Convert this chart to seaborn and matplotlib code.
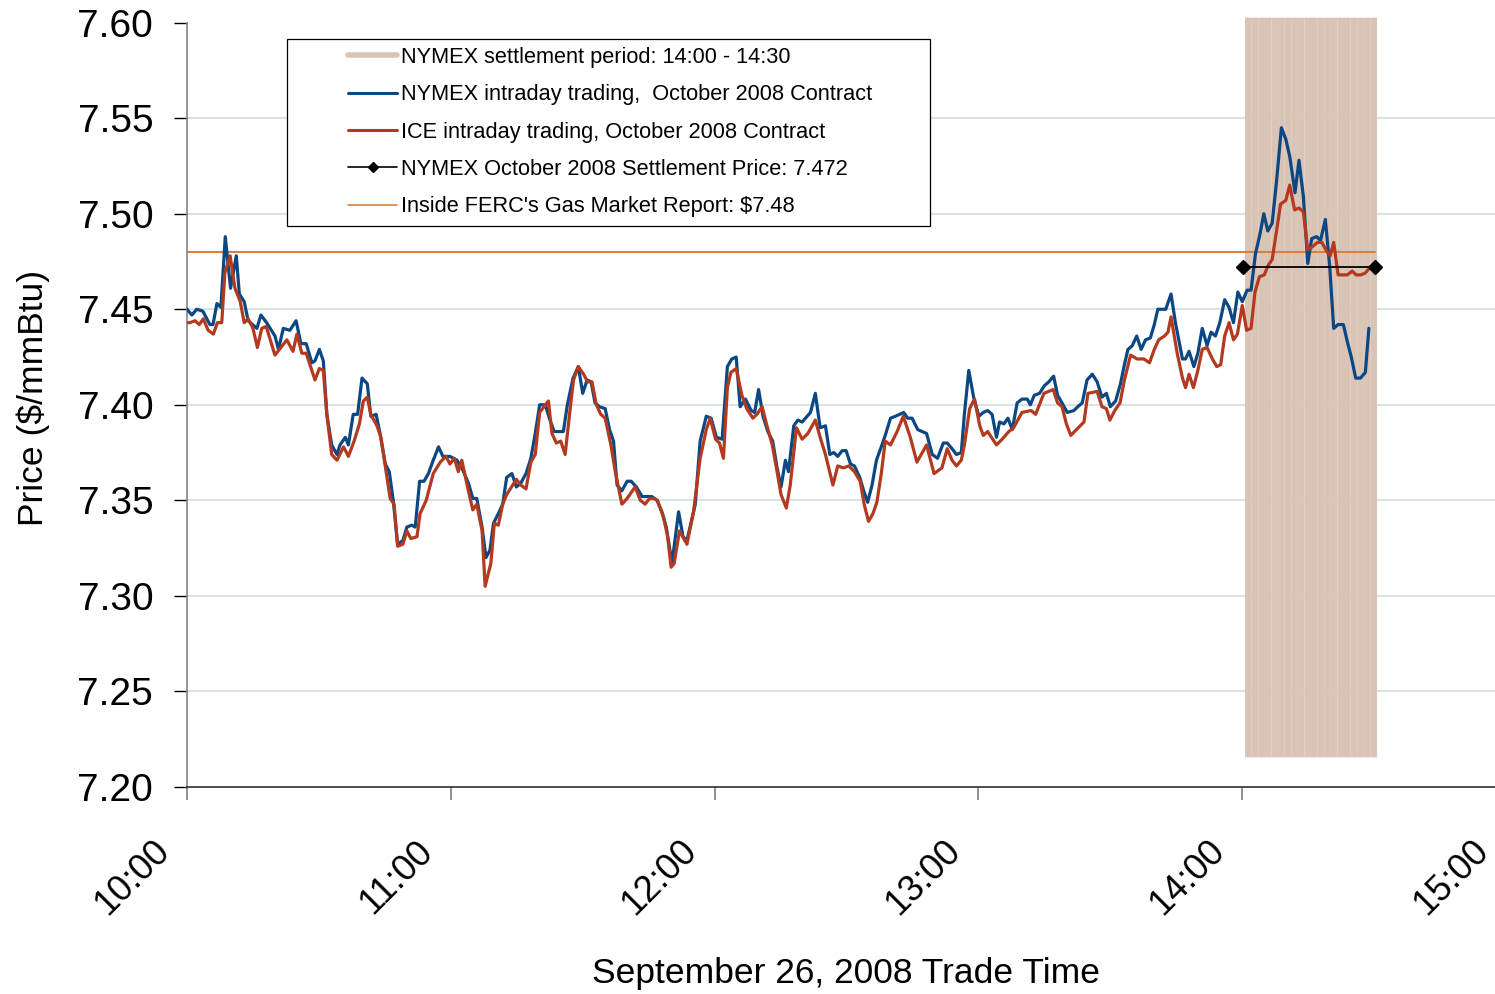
import numpy as np
import matplotlib
matplotlib.use("Agg")
import matplotlib.pyplot as plt
import seaborn as sns
from matplotlib.lines import Line2D
from matplotlib.patches import Rectangle
from matplotlib.transforms import ScaledTranslation

# minutes after 10:00, prices in $/mmBtu
nymex_min = [0.0, 1.1, 2.2, 3.6, 5.2, 5.9, 6.8, 7.7, 8.7, 9.9,
             11.2, 11.9, 13.0, 13.9, 15.9, 16.8, 18.1, 20.0, 20.8, 21.9,
             23.4, 24.8, 25.9, 27.1, 28.4, 29.1, 30.1, 31.0, 31.8, 32.9,
             34.1, 34.8, 36.0, 36.7, 37.8, 38.8, 39.8, 41.0, 41.8, 43.0,
             43.9, 45.1, 46.0, 46.9, 47.9, 49.1, 50.0, 51.1, 51.9, 52.9,
             53.9, 54.9, 56.0, 57.2, 58.2, 59.8, 61.4, 62.5, 64.0, 65.0,
             65.9, 67.1, 68.0, 68.9, 69.7, 70.8, 71.8, 72.7, 73.9, 74.9,
             75.9, 77.1, 78.2, 79.2, 80.2, 81.5, 82.4, 83.5, 85.6, 86.5,
             87.8, 89.0, 90.0, 91.0, 91.9, 92.8, 93.8, 95.1, 96.1, 97.0,
             97.8, 98.9, 100.1, 101.0, 102.2, 103.5, 104.7, 105.7, 106.9, 108.0,
             109.0, 110.3, 111.8, 112.8, 113.7, 115.6, 116.7, 118.1, 119.2, 120.4,
             121.7, 122.9, 123.9, 124.9, 125.8, 127.0, 128.3, 129.1, 130.0, 131.0,
             132.1, 133.2, 134.2, 135.1, 136.1, 136.8, 138.0, 138.9, 139.9, 141.8,
             142.9, 144.0, 145.2, 146.2, 147.1, 148.0, 149.0, 149.9, 150.9, 151.8,
             153.0, 153.9, 154.8, 155.8, 156.8, 157.9, 158.8, 160.0, 161.1, 163.0,
             163.9, 164.9, 166.2, 167.2, 168.2, 169.5, 170.7, 172.0, 172.9, 174.0,
             175.0, 176.1, 176.8, 177.8, 178.9, 180.1, 181.1, 182.1, 183.1, 184.1,
             184.8, 185.8, 186.7, 187.7, 188.8, 189.9, 191.1, 191.8, 192.7, 193.9,
             195.0, 196.0, 197.1, 198.0, 199.0, 200.2, 201.7, 202.6, 203.6, 204.7,
             205.9, 207.0, 208.1, 209.1, 210.0, 211.2, 212.3, 213.2, 214.0, 215.0,
             216.0, 217.0, 218.0, 219.1, 220.0, 220.8, 222.6, 223.8, 224.8, 226.4,
             227.1, 227.9, 229.0, 229.9, 230.9, 232.0, 232.9, 233.9, 234.9, 236.0,
             237.0, 238.0, 239.0, 240.0, 241.1, 242.0, 243.0, 244.0, 244.9, 245.8,
             246.8, 247.8, 248.9, 249.9, 250.8, 252.0, 252.9, 253.9, 254.9, 255.8,
             256.9, 257.8, 258.9, 259.9, 260.8, 261.8, 263.0, 263.9, 264.8, 265.8,
             266.9, 268.0, 268.8]
nymex_px = [7.450, 7.447, 7.450, 7.449, 7.442, 7.442, 7.453, 7.451, 7.488, 7.461,
            7.478, 7.458, 7.454, 7.444, 7.440, 7.447, 7.443, 7.436, 7.429, 7.440,
            7.439, 7.444, 7.432, 7.432, 7.422, 7.423, 7.429, 7.423, 7.395, 7.379,
            7.374, 7.379, 7.383, 7.379, 7.395, 7.395, 7.414, 7.411, 7.394, 7.395,
            7.385, 7.369, 7.365, 7.350, 7.327, 7.329, 7.336, 7.337, 7.336, 7.360,
            7.360, 7.364, 7.371, 7.378, 7.373, 7.373, 7.371, 7.367, 7.359, 7.351,
            7.351, 7.336, 7.320, 7.324, 7.338, 7.343, 7.348, 7.362, 7.364, 7.357,
            7.359, 7.364, 7.372, 7.385, 7.400, 7.400, 7.393, 7.386, 7.386, 7.400,
            7.414, 7.420, 7.406, 7.413, 7.412, 7.401, 7.399, 7.398, 7.387, 7.381,
            7.358, 7.355, 7.360, 7.360, 7.357, 7.352, 7.352, 7.352, 7.350, 7.344,
            7.336, 7.317, 7.344, 7.331, 7.329, 7.348, 7.381, 7.394, 7.393, 7.383,
            7.382, 7.420, 7.424, 7.425, 7.399, 7.403, 7.397, 7.396, 7.408, 7.394,
            7.386, 7.381, 7.367, 7.357, 7.371, 7.365, 7.389, 7.392, 7.391, 7.396,
            7.406, 7.388, 7.389, 7.374, 7.375, 7.373, 7.376, 7.376, 7.369, 7.368,
            7.362, 7.355, 7.349, 7.358, 7.371, 7.378, 7.384, 7.393, 7.394, 7.396,
            7.393, 7.393, 7.387, 7.386, 7.385, 7.374, 7.372, 7.380, 7.380, 7.377,
            7.374, 7.375, 7.395, 7.418, 7.404, 7.394, 7.396, 7.397, 7.395, 7.383,
            7.391, 7.390, 7.393, 7.387, 7.401, 7.403, 7.403, 7.400, 7.405, 7.406,
            7.410, 7.412, 7.415, 7.405, 7.401, 7.396, 7.397, 7.399, 7.401, 7.413,
            7.416, 7.412, 7.404, 7.406, 7.399, 7.402, 7.411, 7.421, 7.429, 7.431,
            7.436, 7.429, 7.434, 7.435, 7.442, 7.450, 7.450, 7.458, 7.443, 7.424,
            7.424, 7.428, 7.420, 7.427, 7.440, 7.431, 7.438, 7.436, 7.443, 7.455,
            7.451, 7.443, 7.459, 7.454, 7.460, 7.460, 7.479, 7.489, 7.500, 7.491,
            7.495, 7.517, 7.545, 7.539, 7.530, 7.511, 7.528, 7.509, 7.474, 7.487,
            7.488, 7.486, 7.497, 7.472, 7.440, 7.442, 7.442, 7.433, 7.425, 7.414,
            7.414, 7.417, 7.440]

ice_min = [0.0, 0.7, 1.8, 2.8, 3.7, 4.8, 6.0, 6.9, 7.9, 8.6,
           9.8, 10.9, 12.1, 13.0, 13.9, 15.0, 16.0, 17.0, 18.0, 20.0,
           22.7, 24.1, 25.0, 26.1, 27.1, 29.1, 30.1, 31.0, 31.8, 32.9,
           34.1, 35.6, 36.7, 38.0, 39.2, 40.1, 41.0, 41.8, 43.2, 44.1,
           46.2, 47.1, 47.9, 49.1, 50.0, 50.9, 52.3, 53.0, 54.4, 56.0,
           57.6, 58.9, 59.8, 60.8, 61.7, 62.5, 63.8, 65.0, 65.9, 67.1,
           67.8, 69.1, 69.9, 70.8, 71.8, 72.7, 74.9, 75.9, 77.1, 78.2,
           79.2, 80.2, 82.2, 83.0, 84.0, 85.0, 86.0, 87.0, 87.9, 89.0,
           90.2, 91.1, 92.1, 93.1, 94.1, 95.1, 96.4, 97.4, 98.9, 100.1,
           101.9, 103.1, 104.2, 105.2, 106.1, 107.0, 108.4, 109.3, 110.1, 110.8,
           112.0, 113.7, 115.2, 116.7, 118.1, 119.0, 120.2, 121.1, 122.0, 122.9,
           123.7, 124.9, 126.2, 127.3, 128.7, 129.6, 130.8, 131.9, 133.1, 134.2,
           135.1, 136.3, 137.2, 138.6, 139.9, 141.2, 142.9, 144.0, 145.2, 146.9,
           148.0, 149.3, 150.5, 151.8, 153.1, 154.0, 155.0, 156.0, 156.9, 157.9,
           158.8, 160.0, 161.5, 162.9, 164.5, 166.0, 168.2, 169.9, 171.7, 172.9,
           174.0, 175.0, 176.1, 176.8, 178.0, 179.1, 180.3, 181.1, 182.1, 184.1,
           185.4, 186.9, 188.0, 189.9, 192.0, 193.0, 194.9, 197.0, 198.0, 199.0,
           200.0, 201.0, 204.0, 204.9, 207.0, 208.1, 209.1, 209.9, 211.0, 212.2,
           213.2, 214.6, 216.1, 217.6, 218.9, 220.0, 221.0, 222.3, 223.1, 223.8,
           225.2, 226.4, 227.1, 227.9, 228.9, 229.9, 230.9, 232.0, 233.2, 234.2,
           235.1, 236.0, 237.0, 238.0, 238.9, 240.0, 241.0, 242.0, 242.9, 243.9,
           245.0, 245.9, 246.8, 247.8, 248.7, 249.9, 250.8, 251.9, 252.9, 253.9,
           254.9, 256.1, 257.1, 258.1, 259.3, 260.0, 260.8, 261.8, 263.2, 263.9,
           265.0, 265.9, 267.0, 268.0, 269.1, 269.8]
ice_px = [7.443, 7.443, 7.444, 7.442, 7.445, 7.439, 7.437, 7.443, 7.443, 7.469,
          7.478, 7.461, 7.454, 7.443, 7.445, 7.440, 7.430, 7.440, 7.441, 7.426,
          7.434, 7.428, 7.437, 7.427, 7.427, 7.413, 7.419, 7.418, 7.395, 7.374,
          7.371, 7.378, 7.373, 7.381, 7.390, 7.402, 7.404, 7.395, 7.389, 7.383,
          7.351, 7.348, 7.326, 7.327, 7.334, 7.330, 7.331, 7.343, 7.350, 7.364,
          7.370, 7.373, 7.369, 7.372, 7.365, 7.371, 7.357, 7.345, 7.348, 7.334,
          7.305, 7.317, 7.338, 7.337, 7.348, 7.353, 7.361, 7.358, 7.356, 7.370,
          7.374, 7.396, 7.402, 7.385, 7.380, 7.381, 7.374, 7.395, 7.413, 7.420,
          7.416, 7.412, 7.412, 7.400, 7.395, 7.393, 7.379, 7.365, 7.348, 7.351,
          7.357, 7.350, 7.348, 7.351, 7.351, 7.350, 7.341, 7.331, 7.315, 7.317,
          7.334, 7.327, 7.344, 7.372, 7.387, 7.393, 7.382, 7.380, 7.372, 7.409,
          7.417, 7.419, 7.405, 7.398, 7.393, 7.395, 7.399, 7.389, 7.379, 7.365,
          7.353, 7.346, 7.358, 7.388, 7.382, 7.385, 7.392, 7.383, 7.374, 7.358,
          7.368, 7.367, 7.368, 7.365, 7.360, 7.348, 7.339, 7.343, 7.349, 7.364,
          7.381, 7.379, 7.386, 7.394, 7.383, 7.370, 7.379, 7.364, 7.367, 7.377,
          7.371, 7.368, 7.371, 7.379, 7.398, 7.403, 7.389, 7.384, 7.386, 7.379,
          7.382, 7.386, 7.388, 7.396, 7.397, 7.395, 7.406, 7.408, 7.401, 7.399,
          7.390, 7.384, 7.391, 7.406, 7.407, 7.399, 7.398, 7.392, 7.397, 7.401,
          7.413, 7.426, 7.424, 7.424, 7.422, 7.429, 7.434, 7.436, 7.438, 7.446,
          7.427, 7.414, 7.409, 7.416, 7.409, 7.418, 7.429, 7.430, 7.424, 7.420,
          7.421, 7.436, 7.443, 7.434, 7.437, 7.452, 7.439, 7.440, 7.459, 7.467,
          7.468, 7.473, 7.476, 7.491, 7.505, 7.507, 7.515, 7.502, 7.503, 7.501,
          7.481, 7.483, 7.485, 7.485, 7.480, 7.478, 7.485, 7.468, 7.468, 7.468,
          7.470, 7.468, 7.468, 7.469, 7.472, 7.472]

settle_min = [240.1, 270.3]
settle_px = [7.472, 7.472]
ferc_min = [0.0, 270.3]
ferc_px = [7.48, 7.48]

# stripes of the 14:00 - 14:30 settlement window
band_min = [241.4, 242.9, 244.4, 245.9, 247.4, 248.9, 250.4, 251.9, 253.4, 254.9,
            256.4, 257.9, 259.4, 260.9, 262.4, 263.9, 265.4, 266.9, 268.4, 269.9]

x_ticks = [0, 60, 120, 180, 240, 300]
x_labels = ["10:00", "11:00", "12:00", "13:00", "14:00", "15:00"]
y_ticks = [7.20, 7.25, 7.30, 7.35, 7.40, 7.45, 7.50, 7.55, 7.60]

legend_labels = ["NYMEX settlement period: 14:00 - 14:30",
                 "NYMEX intraday trading,  October 2008 Contract",
                 "ICE intraday trading, October 2008 Contract",
                 "NYMEX October 2008 Settlement Price: 7.472",
                 "Inside FERC's Gas Market Report: \\$7.48"]

tan = "#d9c4b6"
blue = "#0b4883"
red = "#b3391f"
orange = "#d9803e"
grid_c = "#d6e0e0"

sns.set_style("white")
plt.rcParams['font.family'] = ['Liberation Sans', 'DejaVu Sans']
plt.rcParams['text.color'] = 'black'

fig = plt.figure(figsize=(14.95, 9.94), dpi=100)
ax = fig.add_axes([0.1251, 0.2083, 0.8823, 0.7689])

for y in y_ticks[1:-1]:
    ax.axhline(y, color=grid_c, lw=1.3, zorder=0)

ax.vlines(band_min, 7.2155, 7.6026, color=tan, lw=4.8, clip_on=False,
          zorder=1, snap=False)
ax.plot(ferc_min, ferc_px, color=orange, lw=1.5, zorder=2)
sns.lineplot(x=nymex_min, y=nymex_px, ax=ax, color=blue, lw=2.3,
             estimator=None, sort=False, zorder=3)
sns.lineplot(x=ice_min, y=ice_px, ax=ax, color=red, lw=2.3,
             estimator=None, sort=False, zorder=4)
ax.plot(settle_min, settle_px, color="black", lw=1.3, marker="D", ms=7, zorder=5)

ax.set_xlim(0, 300)
ax.set_ylim(7.20, 7.60)
ax.set_xticks(x_ticks)
ax.set_xticklabels(x_labels, rotation=45, ha="right", va="center",
                   rotation_mode="anchor")
ax.set_yticks(y_ticks)
ax.set_yticklabels([f"{v:.2f}" for v in y_ticks])
ax.set_xlabel("")
ax.set_ylabel("")

sns.despine(ax=ax)
ax.spines["left"].set_color("#858585")
ax.spines["left"].set_linewidth(1.2)
ax.spines["bottom"].set_color("#303030")
ax.spines["bottom"].set_linewidth(1.2)
ax.tick_params(axis="y", direction="out", length=9.4, width=1, color="black",
               labelcolor="black", pad=15, labelsize=28, left=True)
ax.tick_params(axis="x", direction="out", length=9.4, width=1.2, color="#808080",
               labelcolor="black", pad=33, labelsize=26, bottom=True)
shift = ScaledTranslation(-23 / 100, 0, fig.dpi_scale_trans)
for lab in ax.get_xticklabels():
    lab.set_transform(lab.get_transform() + shift)

fig.text(33 / 1495, 1 - 398 / 994, "Price (\\$/mmBtu)", rotation=90,
         ha="center", va="center", fontsize=25.5, color="black")
fig.text(846 / 1495, 1 - 973 / 994, "September 26, 2008 Trade Time",
         ha="center", va="center", fontsize=25.5, color="black")

fig.add_artist(Rectangle((287 / 1495, 1 - 226 / 994), 643 / 1495, 187 / 994,
                         transform=fig.transFigure, fc="white", ec="black",
                         lw=0.9, zorder=3))
handles = [Line2D([], [], color=tan, lw=4),
           Line2D([], [], color=blue, lw=2.2),
           Line2D([], [], color=red, lw=2.2),
           Line2D([], [], color="black", lw=1.2, marker="D", ms=5.5),
           Line2D([], [], color=orange, lw=1.2)]
leg = fig.legend(handles, legend_labels, loc="upper left",
                 bbox_to_anchor=(348 / 1495, 1 - 47 / 994), frameon=False,
                 fontsize=15.7, handlelength=2.25, handletextpad=0.18,
                 labelspacing=0.75, borderpad=0, borderaxespad=0,
                 labelcolor="black")
leg.set_zorder(6)

fig.savefig("out.png", dpi=100)
